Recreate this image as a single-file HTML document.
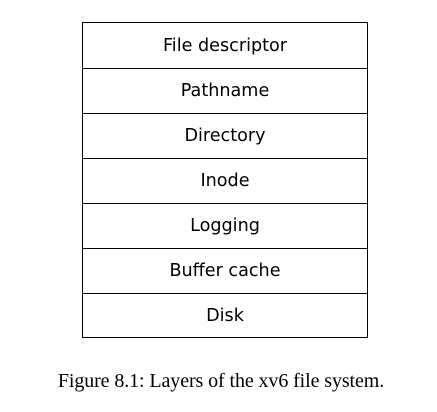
<!DOCTYPE html>
<html><head><style>
body{margin:0;width:437px;height:412px;background:#fff;position:relative;overflow:hidden}
.box{position:absolute;left:82px;top:21.5px;width:284px;height:314px;border:1.3px solid #000}
.r{position:absolute;left:0;width:284px;height:45px;text-align:center;font:17.6px "DejaVu Sans",sans-serif;line-height:46px;color:#000;box-sizing:border-box}
.r+.r{border-top:1.3px solid #000;line-height:44px}
.cap{position:absolute;left:0;width:437px;top:370px;text-align:center;font:20px "Liberation Serif",serif;color:#000;letter-spacing:-0.1px;padding-left:5px;box-sizing:border-box}
</style></head><body>
<div class="box">
<div class="r" style="top:0">File descriptor</div>
<div class="r" style="top:45px">Pathname</div>
<div class="r" style="top:90px">Directory</div>
<div class="r" style="top:135px">Inode</div>
<div class="r" style="top:180px">Logging</div>
<div class="r" style="top:225px">Buffer cache</div>
<div class="r" style="top:270px">Disk</div>
</div>
<div class="cap">Figure 8.1: Layers of the xv6 file system.</div>
</body></html>
